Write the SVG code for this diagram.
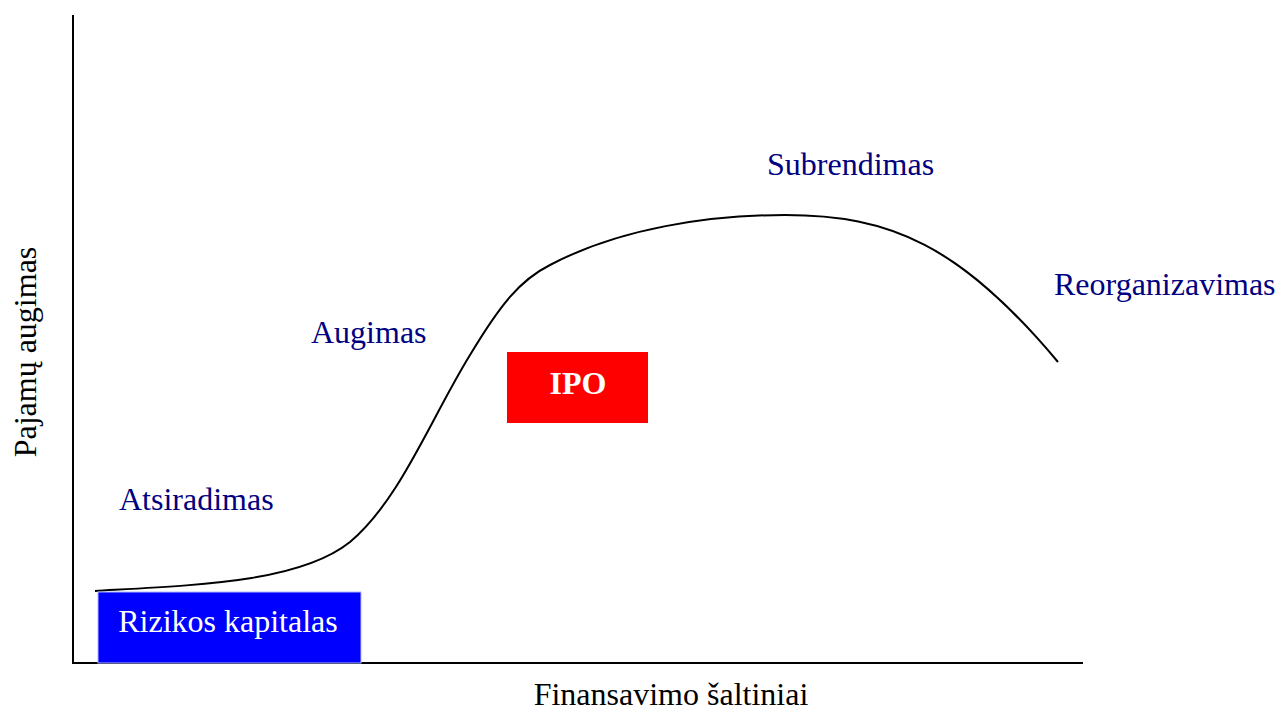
<svg xmlns="http://www.w3.org/2000/svg" width="1277" height="713" viewBox="0 0 1277 713">
<style>
.lbl{font-family:"Liberation Serif",serif;font-size:32px;fill:#000080}
.ax{font-family:"Liberation Serif",serif;font-size:32px;fill:#000}
.box{font-family:"Liberation Serif",serif;font-size:32px;fill:#fff;text-anchor:middle}
</style>
<rect width="1277" height="713" fill="#fff"/>
<g id="axes" stroke="#000" stroke-width="2" fill="none">
<line x1="73" y1="15" x2="73" y2="663"/>
<line x1="72" y1="663" x2="1083" y2="663"/>
</g>
<g id="curve">
<path d="M95,591 C200,585 300,582 350,542 C400,500 430,420 470,355 C500,305 520,280 550,265 C620,228 710,215 785,215 C890,215 960,245 1058,362" fill="none" stroke="#000" stroke-width="2"/>
</g>
<g id="rizikos">
<rect x="98" y="592" width="263" height="71" fill="#0000ff" stroke="#b0b8ff" stroke-width="1"/>
<text class="box" x="228" y="632">Rizikos kapitalas</text>
</g>
<g id="ipo">
<rect x="507" y="352" width="141" height="71" fill="#ff0000"/>
<text class="box" x="578" y="394" font-weight="bold">IPO</text>
</g>
<g id="labels">
<text class="lbl" x="119" y="510">Atsiradimas</text>
<text class="lbl" x="311" y="343">Augimas</text>
<text class="lbl" x="767" y="175">Subrendimas</text>
<text class="lbl" x="1054" y="295">Reorganizavimas</text>
</g>
<g id="axis-labels">
<text class="ax" x="671" y="705" text-anchor="middle">Finansavimo šaltiniai</text>
<text class="ax" transform="translate(36,352) rotate(-90)" text-anchor="middle">Pajamų augimas</text>
</g>
</svg>
